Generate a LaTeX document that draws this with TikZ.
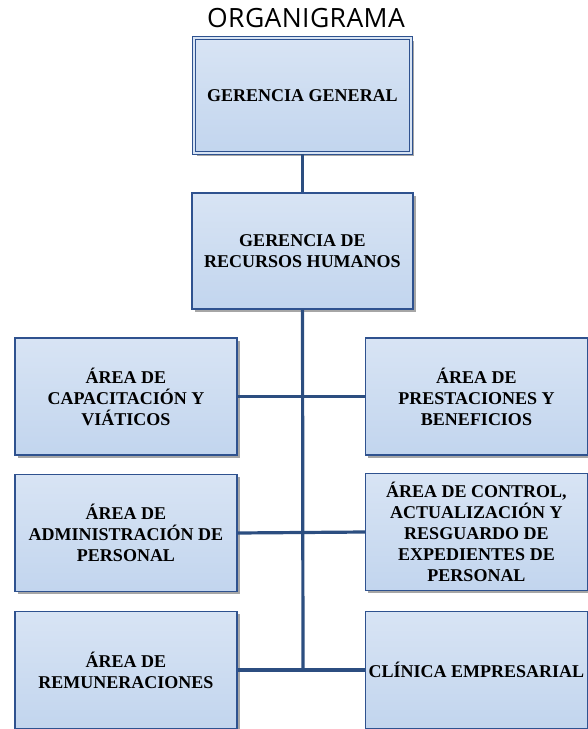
\documentclass[tikz,border=0pt]{standalone}
\usepackage{fontspec}
\setmainfont{Liberation Serif}
\newfontfamily\titlefont[LetterSpace=1.5]{Open Sans}
\usetikzlibrary{shadows}
\definecolor{boxtop}{RGB}{216,228,244}
\definecolor{boxbot}{RGB}{194,213,238}
\definecolor{boxline}{RGB}{47,82,143}
\definecolor{conn}{RGB}{44,78,128}
\tikzset{
  orgbox/.style={rectangle, draw=boxline, line width=1.2pt, top color=boxtop, bottom color=boxbot,
    minimum width=222pt, minimum height=117pt, align=center, inner sep=0pt,
    font=\bfseries\fontsize{18}{21}\selectfont,
    drop shadow={shadow xshift=2.5pt, shadow yshift=-2.5pt, fill=black, opacity=0.35}},
  topbox/.style={orgbox, double=boxtop, double distance=1.6pt, line width=1.5pt},
  conline/.style={draw=conn, line width=3.2pt}
}
\begin{document}
\begin{tikzpicture}[x=1pt,y=-1pt]
\useasboundingbox (0,0) rectangle (588,729);
\node[font=\titlefont\fontsize{26.5}{30}\selectfont] (title) at (306,18) {ORGANIGRAMA};
\node[topbox, minimum width=217pt, minimum height=115pt] (gg) at (302.5,95.5) {GERENCIA GENERAL};
\node[orgbox, minimum width=221pt, minimum height=116pt] (rh) at (302.5,251) {GERENCIA DE\\RECURSOS HUMANOS};
\node[orgbox] (l1) at (126,396.5) {ÁREA DE\\CAPACITACIÓN Y\\VIÁTICOS};
\node[orgbox] (r1) at (476.5,396.5) {ÁREA DE\\PRESTACIONES Y\\BENEFICIOS};
\node[orgbox] (l2) at (126,533) {ÁREA DE\\ADMINISTRACIÓN DE\\PERSONAL};
\node[orgbox] (r2) at (476.5,532) {ÁREA DE CONTROL,\\ACTUALIZACIÓN Y\\RESGUARDO DE\\EXPEDIENTES DE\\PERSONAL};
\node[orgbox] (l3) at (126,670) {ÁREA DE\\REMUNERACIONES};
\node[orgbox] (r3) at (476.5,670) {CLÍNICA EMPRESARIAL};
\coordinate (trunkend) at (303,670);
\draw[conline] (gg.south) -- (rh.north);
\draw[conline] (rh.south) -- (trunkend);
\draw[conline] (l1.east) -- (r1.west);
\draw[conline] (l2.east) -- (r2.west);
\draw[conline] (l3.east) -- (r3.west);
\end{tikzpicture}
\end{document}
